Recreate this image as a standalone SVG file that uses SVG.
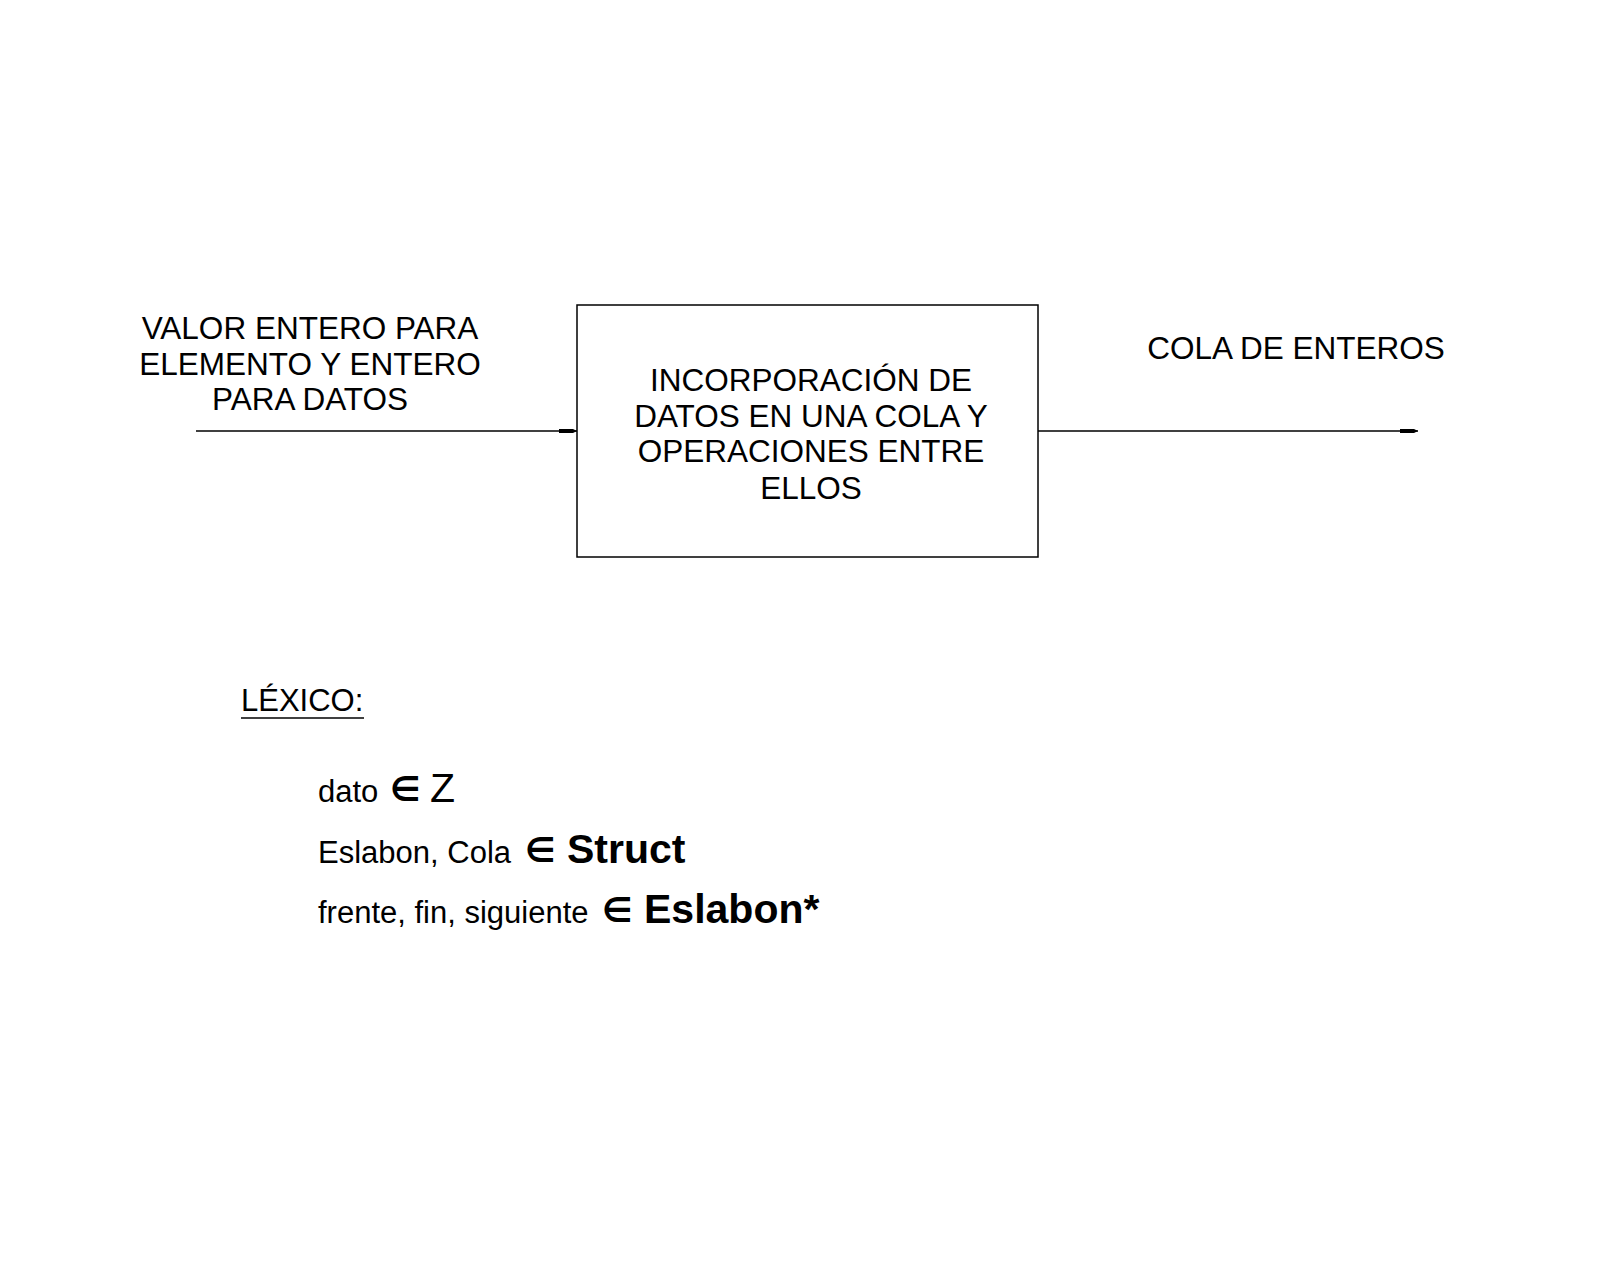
<svg xmlns="http://www.w3.org/2000/svg" width="1600" height="1280" viewBox="0 0 1600 1280">
<style>
text{font-family:"Liberation Sans",Arial,sans-serif;fill:#000}
.t{font-size:31.5px;text-anchor:middle}
.l{font-size:31px}
.b{font-weight:bold;font-size:41px}
.e{font-size:34px;font-weight:bold;font-family:"DejaVu Sans",sans-serif}
line{stroke:#000;stroke-width:1.5}
</style>
<defs>
<marker id="ah" markerWidth="18" markerHeight="6" refX="18" refY="3" orient="auto" markerUnits="userSpaceOnUse">
<path d="M0,1 L14,1 L18,3 L14,5 L0,5 Z" fill="#000"/>
</marker>
</defs>
<rect width="1600" height="1280" fill="#fff"/>
<g id="connectors">
<line x1="196" y1="431" x2="577" y2="431" marker-end="url(#ah)"/>
<line x1="1038" y1="431" x2="1418" y2="431" marker-end="url(#ah)"/>
</g>
<g id="input-label">
<text class="t" x="310" y="339">VALOR ENTERO PARA</text>
<text class="t" x="310" y="374.5">ELEMENTO Y ENTERO</text>
<text class="t" x="310" y="410">PARA DATOS</text>
</g>
<g id="process">
<rect x="577" y="305" width="461" height="252" fill="none" stroke="#000" stroke-width="1.5"/>
<text class="t" x="811" y="391">INCORPORACIÓN DE</text>
<text class="t" x="811" y="426.5">DATOS EN UNA COLA Y</text>
<text class="t" x="811" y="462">OPERACIONES ENTRE</text>
<text class="t" x="811" y="499">ELLOS</text>
</g>
<g id="output-label">
<text class="t" x="1296" y="359">COLA DE ENTEROS</text>
</g>
<g id="lexico">
<text class="l" x="241" y="711">LÉXICO:</text>
<line x1="241" y1="718" x2="364" y2="718" stroke-width="1.3"/>
<text class="l" x="318" y="802">dato</text>
<text class="e" x="390" y="801">∈</text>
<text x="430" y="802" style="font-size:41px">Z</text>
<text class="l" x="318" y="863">Eslabon, Cola</text>
<text class="e" x="525" y="862">∈</text>
<text class="b" x="567" y="863">Struct</text>
<text class="l" x="318" y="923">frente, fin, siguiente</text>
<text class="e" x="602" y="922">∈</text>
<text class="b" x="644" y="923">Eslabon*</text>
</g>
</svg>
